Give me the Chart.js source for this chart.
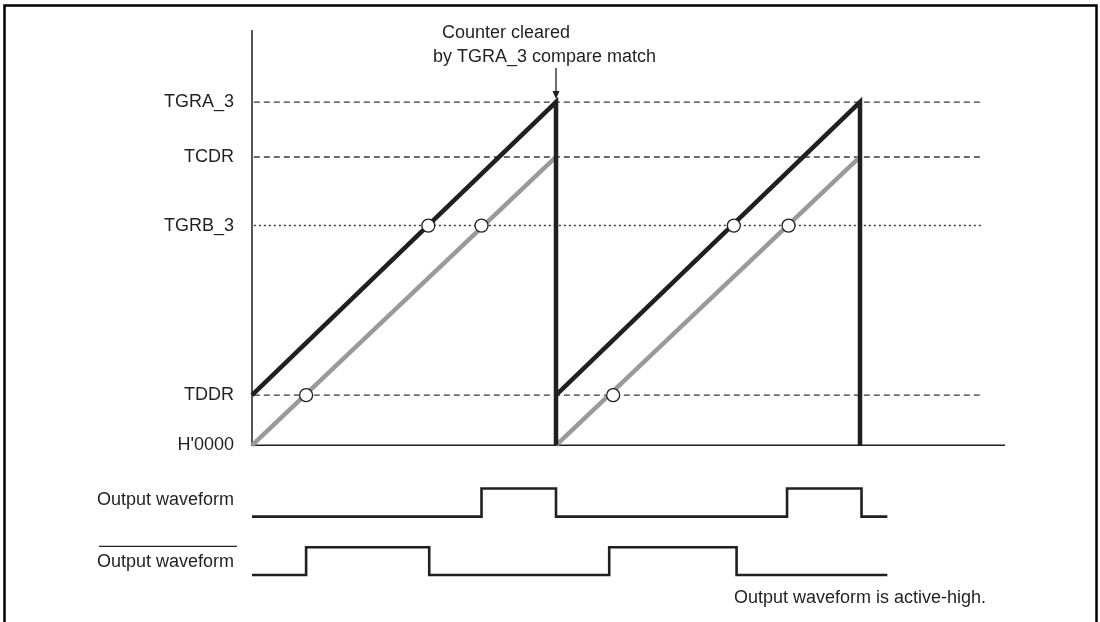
<!DOCTYPE html>
<html lang="en">
<head>
    <meta charset="UTF-8">
    <title>Counter cleared by TGRA_3 compare match</title>
    <script src="https://cdn.jsdelivr.net/npm/chart.js"></script>
    <style>
        body { margin: 0; background: #fff; }
        canvas { display: block; }
    </style>
</head>
<body>
<canvas id="waveChart" width="1100" height="622"></canvas>

<script>
    // register levels (counter units)
    const levelNames = ["H'0000", 'TDDR', 'TGRB_3', 'TCDR', 'TGRA_3'];
    const levelValues = [0, 14.6, 64, 84, 100];

    // counter ramps, time units (one period = 100)
    const blackRamp = [[0, 14.6], [100, 100], [100, 0], null, [100, 14.6], [200, 100], [200, 0]];
    const grayRamp = [[0, 0], [100, 84], null, [100, 0], [200, 84]];

    // compare-match points
    const matchX = [58, 75.5, 17.8, 158.5, 176.5, 118.8];
    const matchY = [64, 64, 14.6, 64, 64, 14.6];

    // output waveforms: edge times and levels (1 = high)
    const outEdges = [0, 75.5, 100, 176, 200.5, 209];
    const outLevels = [0, 1, 0, 1, 0, 0];
    const outBarEdges = [0, 17.8, 58.3, 117.5, 159.4, 209];
    const outBarLevels = [0, 1, 0, 1, 0, 0];
    const waveLabel = 'Output waveform';

    const ink = '#231f20';
    const font = '"Liberation Sans", Arial, Helvetica, sans-serif';

    const pts = arr => arr.map(p => p ? { x: p[0], y: p[1] } : { x: 0, y: null });
    const wave = (edges, levels, low, high) =>
        edges.map((x, i) => ({ x: x, y: levels[i] ? high : low }));
    const refLine = (y, end) => [{ x: 0.6, y: y }, { x: end, y: y }];

    const yTicks = levelValues.concat([-16, -34]);
    const yLabels = levelNames.concat([waveLabel, waveLabel]);

    const dashed = { borderColor: '#3a3a3a', borderWidth: 1.3, borderDash: [6, 4], pointRadius: 0, order: 3 };

    const extras = {
        id: 'extras',
        afterDraw(chart) {
            const c = chart.ctx;
            const xs = chart.scales.x;
            const ys = chart.scales.y;
            c.save();
            // frame
            c.strokeStyle = '#000';
            c.lineWidth = 2.5;
            c.beginPath();
            c.moveTo(4.5, 640);
            c.lineTo(4.5, 5.5);
            c.lineTo(1096.5, 5.5);
            c.lineTo(1096.5, 640);
            c.stroke();

            c.fillStyle = ink;
            c.font = '18px ' + font;
            c.textBaseline = 'alphabetic';
            c.textAlign = 'left';
            c.fillText('Counter cleared', 442, 38);
            c.fillText('by TGRA_3 compare match', 433, 62);
            c.fillText('Output waveform is active-high.', 734, 603);

            // arrow to the clear point
            const ax = xs.getPixelForValue(100);
            const ay = ys.getPixelForValue(100);
            c.strokeStyle = ink;
            c.lineWidth = 1.3;
            c.beginPath();
            c.moveTo(ax, 68);
            c.lineTo(ax, ay - 9);
            c.stroke();
            c.beginPath();
            c.moveTo(ax - 3.5, ay - 11);
            c.lineTo(ax + 3.5, ay - 11);
            c.lineTo(ax, ay - 3);
            c.closePath();
            c.fill();

            // overline on the inverted waveform label
            const ly = ys.getPixelForValue(-34);
            const w = c.measureText(waveLabel).width;
            c.lineWidth = 1.2;
            c.beginPath();
            c.moveTo(234 - w + 2, ly - 15.5);
            c.lineTo(237, ly - 15.5);
            c.stroke();
            c.restore();
        }
    };

    const ctx = document.getElementById('waveChart').getContext('2d');
    new Chart(ctx, {
        type: 'scatter',
        data: {
            datasets: [
                { data: matchX.map((x, i) => ({ x: x, y: matchY[i] })), pointRadius: 6.5,
                  pointBackgroundColor: '#fff', pointBorderColor: ink, pointBorderWidth: 1.3, order: 0 },
                { data: pts(blackRamp), showLine: true, borderColor: ink, borderWidth: 4.5,
                  pointRadius: 0, borderJoinStyle: 'miter', clip: false, order: 1 },
                { data: pts(grayRamp), showLine: true, borderColor: '#9a9a9a', borderWidth: 4.5,
                  pointRadius: 0, clip: false, order: 2 },
                Object.assign({ data: refLine(100, 239.5), showLine: true }, dashed),
                Object.assign({ data: refLine(84, 239.5), showLine: true }, dashed),
                Object.assign({ data: refLine(14.6, 239.5), showLine: true }, dashed),
                { data: refLine(64, 240.5), showLine: true, borderColor: '#3a3a3a', borderWidth: 1.5,
                  borderDash: [2, 3], pointRadius: 0, order: 3 },
                // axes
                { data: [{ x: 0, y: 121 }, { x: 0, y: 0 }, { x: 247.7, y: 0 }], showLine: true,
                  borderColor: ink, borderWidth: 1.5, pointRadius: 0, borderJoinStyle: 'miter',
                  clip: false, order: 4 },
                { data: wave(outEdges, outLevels, -20.8, -12.6), showLine: true, stepped: true,
                  borderColor: ink, borderWidth: 2.6, pointRadius: 0, clip: false, order: 1 },
                { data: wave(outBarEdges, outBarLevels, -37.8, -29.7), showLine: true, stepped: true,
                  borderColor: ink, borderWidth: 2.6, pointRadius: 0, clip: false, order: 1 }
            ]
        },
        options: {
            responsive: false,
            animation: false,
            events: [],
            layout: { padding: { left: 0, right: 88, top: 30, bottom: 12 } },
            plugins: { legend: { display: false }, tooltip: { enabled: false } },
            scales: {
                x: { type: 'linear', display: false, min: 0, max: 250 },
                y: {
                    type: 'linear', min: -48, max: 121,
                    grid: { display: false, drawTicks: false },
                    border: { display: false },
                    afterBuildTicks: scale => { scale.ticks = yTicks.map(v => ({ value: v })); },
                    afterFit: scale => {
                        scale.width = 252;
                        scale.paddingTop = 0;
                        scale.paddingBottom = 0;
                    },
                    ticks: {
                        autoSkip: false, padding: 18, color: ink,
                        font: { family: font, size: 18 },
                        callback: (value, index) => yLabels[index]
                    }
                }
            }
        },
        plugins: [extras]
    });
</script>
</body>
</html>
